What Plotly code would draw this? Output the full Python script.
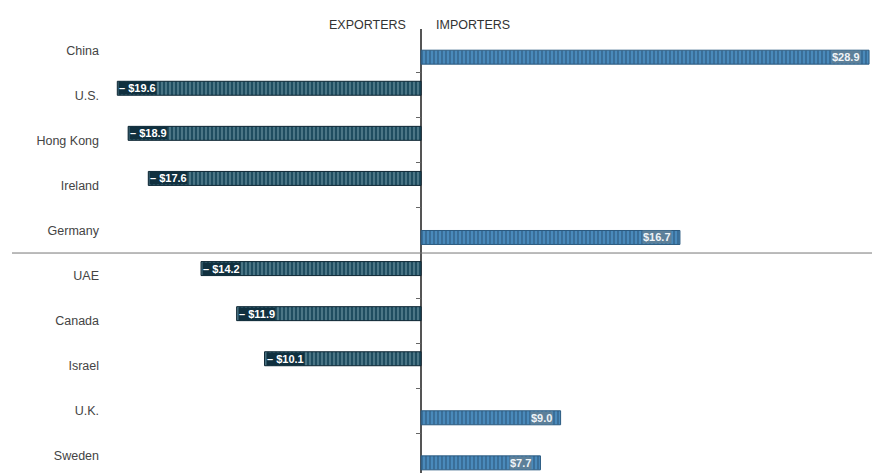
import plotly.graph_objects as go

countries = ["China", "U.S.", "Hong Kong", "Ireland", "Germany",
             "UAE", "Canada", "Israel", "U.K.", "Sweden"]
net_flow = [28.9, -19.6, -18.9, -17.6, 16.7, -14.2, -11.9, -10.1, 9.0, 7.7]
side_labels = ["EXPORTERS", "IMPORTERS"]

exporters = [v if v < 0 else None for v in net_flow]
importers = [v if v > 0 else None for v in net_flow]

def fmt(v):
    return ("\u2013 $%.1f" % abs(v)) if v < 0 else ("$%.1f" % v)

FONT = "Liberation Sans, Arial"

W, H = 887, 473
ml, mr, mt, mb = 108, 4, 29, 0
pw = W - ml - mr
ph = H - mt - mb
x_range = [-20.2, 29.8]
y_range = [9.38, -0.47]
zero_paper = (0 - x_range[0]) / (x_range[1] - x_range[0])

fig = go.Figure()
fig.add_trace(go.Bar(
    y=countries, x=exporters, orientation="h", name="Exporters",
    marker=dict(color="#1f4d60", line=dict(width=1, color="#0e2633"),
                pattern=dict(shape="|", fgcolor="#9cc0cc", size=4, solidity=0.35)),
    showlegend=False, hoverinfo="x+y",
))
fig.add_trace(go.Bar(
    y=countries, x=importers, orientation="h", name="Importers",
    marker=dict(color="#4a8abb", line=dict(width=1, color="#2a5a80"),
                pattern=dict(shape="|", fgcolor="#1b3a58", size=4, solidity=0.35)),
    showlegend=False, hoverinfo="x+y",
))
fig.add_trace(go.Scatter(x=[], y=[], yaxis="y2", showlegend=False))

annotations = []
for i, (c, v) in enumerate(zip(countries, net_flow)):
    if v < 0:
        annotations.append(dict(
            x=v, y=i, yshift=7, xref="x", yref="y", text="<b>%s</b>" % fmt(v),
            showarrow=False, xanchor="left", xshift=1,
            font=dict(family=FONT, size=11, color="white"),
            bgcolor="#10303f", borderpad=0))
    else:
        annotations.append(dict(
            x=v, y=i, yshift=-7, xref="x", yref="y", text="<b>%s</b>" % fmt(v),
            showarrow=False, xanchor="right", xshift=-8,
            font=dict(family=FONT, size=11, color="#eef3f7"),
            bgcolor="#5d8099", borderpad=0))

hdr_y = 1 + (mt - 16) / ph
annotations.append(dict(x=0, y=hdr_y, xref="x", yref="paper", text=side_labels[0],
                        showarrow=False, xanchor="right", xshift=-13,
                        font=dict(family=FONT, size=12.5, color="#333")))
annotations.append(dict(x=0, y=hdr_y, xref="x", yref="paper", text=side_labels[1],
                        showarrow=False, xanchor="left", xshift=13,
                        font=dict(family=FONT, size=12.5, color="#333")))

fig.update_layout(
    width=W, height=H,
    margin=dict(l=ml, r=mr, t=mt, b=mb),
    paper_bgcolor="white", plot_bgcolor="white",
    barmode="group", bargap=0.38, bargroupgap=0,
    xaxis=dict(range=x_range, showticklabels=False, showgrid=False,
               zeroline=True, zerolinecolor="#555", zerolinewidth=1.5, fixedrange=True),
    yaxis=dict(type="category", categoryorder="array", categoryarray=countries,
               range=y_range, showgrid=False, zeroline=False, ticks="",
               ticklabelstandoff=8,
               tickfont=dict(family=FONT, size=12.5, color="#444")),
    yaxis2=dict(overlaying="y", anchor="free", position=zero_paper, side="left",
                range=y_range, tickvals=[0.5, 1.5, 2.5, 3.5, 5.5, 6.5, 7.5, 8.5],
                ticks="outside", ticklen=5, tickcolor="#666", tickwidth=1,
                showticklabels=False, showgrid=False, zeroline=False, showline=False),
    shapes=[dict(type="line", xref="paper", yref="y",
                 x0=(12 - ml) / pw, x1=(872 - ml) / pw, y0=4.5, y1=4.5,
                 line=dict(color="#777", width=1))],
    annotations=annotations,
)

fig.write_html("out.html")
